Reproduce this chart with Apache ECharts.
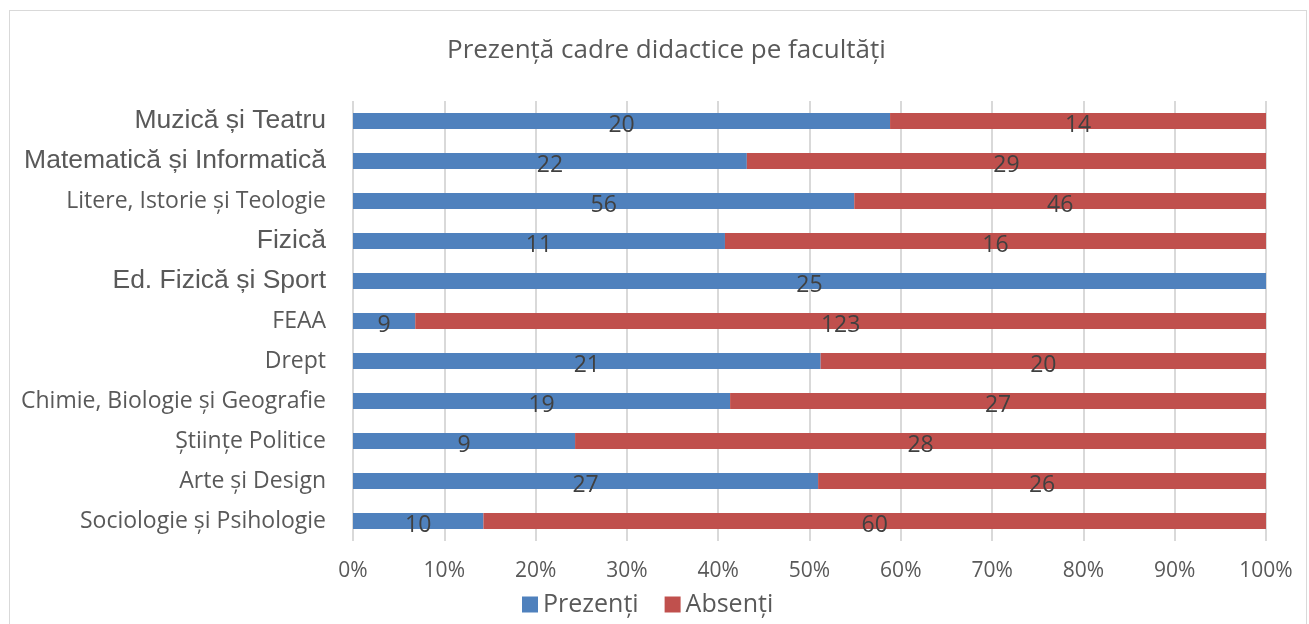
<!DOCTYPE html>
<html>
<head>
<meta charset="utf-8">
<script src="https://cdn.jsdelivr.net/npm/echarts@6/dist/echarts.min.js"></script>
<style>
  html, body { margin: 0; padding: 0; background: #fff; }
  #frame { position: absolute; left: 9px; top: 10px; width: 1296px; height: 640px; border: 1px solid #d9d9d9; }
  #chart { position: absolute; left: 0; top: 0; width: 1309px; height: 624px; }
</style>
</head>
<body>
<div id="frame"></div>
<div id="chart"></div>
<script>
// Faculties, top to bottom as in the picture
const faculties = [
    'Muzică și Teatru',
    'Matematică și Informatică',
    'Litere, Istorie și Teologie',
    'Fizică',
    'Ed. Fizică și Sport',
    'FEAA',
    'Drept',
    'Chimie, Biologie și Geografie',
    'Științe Politice',
    'Arte și Design',
    'Sociologie și Psihologie'
];
const present = [20, 22, 56, 11, 25, 9, 21, 19, 9, 27, 10];
const absent = [14, 29, 46, 16, 0, 123, 20, 27, 28, 26, 60];
const xTicks = [0, 10, 20, 30, 40, 50, 60, 70, 80, 90, 100];

// labels that were typed in a different font in the original
const bigLabels = ['Muzică și Teatru', 'Matematică și Informatică', 'Fizică', 'Ed. Fizică și Sport'];

const chart = echarts.init(document.getElementById('chart'));

function share(counts, i) {
    return counts[i] / (present[i] + absent[i]) * 100;
}

const barLabel = {
    show: true,
    position: 'inside',
    offset: [0, 4],
    color: '#404040',
    fontFamily: 'Open Sans',
    fontSize: 23,
    formatter: p => (p.data.count ? String(p.data.count) : '')
};

const option = {
    animation: false,
    title: {
        text: 'Prezență cadre didactice pe facultăți',
        left: 442,
        top: 33,
        textStyle: { fontFamily: 'Open Sans', fontSize: 26, fontWeight: 'normal', color: '#595959' }
    },
    legend: {
        bottom: 2,
        left: 517,
        icon: 'rect',
        itemWidth: 16,
        itemHeight: 16,
        itemGap: 26,
        textStyle: { fontFamily: 'Open Sans', fontSize: 25, color: '#595959' },
        data: ['Prezenți', 'Absenți']
    },
    grid: { left: 353, right: 43, top: 101, bottom: 83 },
    xAxis: {
        type: 'value',
        min: 0,
        max: 100,
        interval: 10,
        axisLine: { show: false },
        axisTick: { show: false },
        splitLine: { lineStyle: { color: '#d9d9d9', width: 2 } },
        axisLabel: {
            margin: 20,
            color: '#595959',
            fontFamily: 'Open Sans',
            fontSize: 21,
            formatter: v => (xTicks.includes(v) ? v + '%' : '')
        }
    },
    yAxis: {
        type: 'category',
        inverse: true,
        data: faculties,
        axisLine: { show: false },
        axisTick: { show: false },
        axisLabel: {
            margin: 27,
            formatter: v => (bigLabels.includes(v) ? '{a|' + v + '}' : '{b|' + v + '}'),
            rich: {
                a: { fontFamily: 'Liberation Sans', fontSize: 26.5, color: '#595959' },
                b: { fontFamily: 'Open Sans', fontSize: 23, color: '#595959' }
            }
        }
    },
    series: [
        {
            name: 'Prezenți',
            type: 'bar',
            stack: 'total',
            barWidth: 16,
            itemStyle: { color: '#4F81BD' },
            label: barLabel,
            data: present.map((c, i) => ({ value: share(present, i), count: c }))
        },
        {
            name: 'Absenți',
            type: 'bar',
            stack: 'total',
            barWidth: 16,
            itemStyle: { color: '#C0504D' },
            label: barLabel,
            data: absent.map((c, i) => ({ value: share(absent, i), count: c }))
        }
    ]
};

chart.setOption(option);
</script>
</body>
</html>
